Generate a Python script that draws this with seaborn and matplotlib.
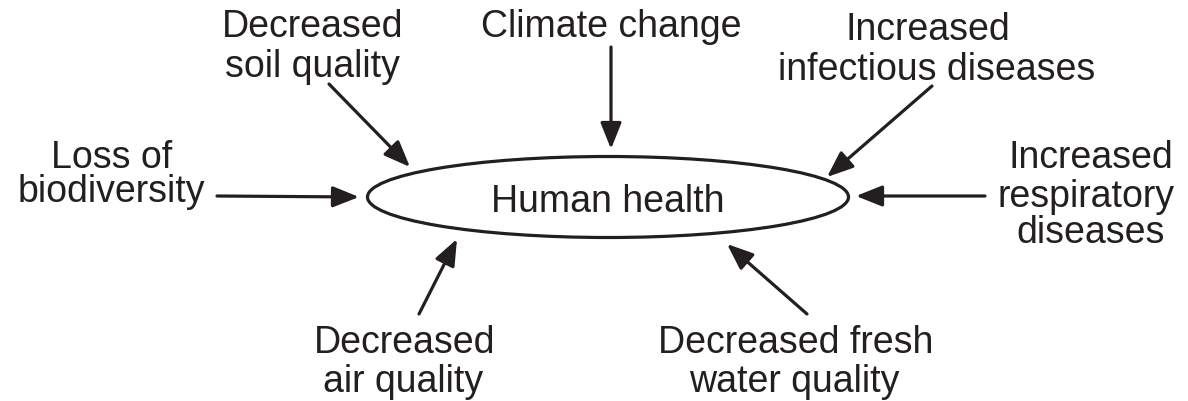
import matplotlib
matplotlib.use("Agg")
import matplotlib.pyplot as plt
from matplotlib.patches import Ellipse
import seaborn as sns

sns.set_theme(style="white")
plt.rcParams["font.family"] = ["Liberation Sans", "DejaVu Sans"]

INK = "#231f20"

# Diagram content
center_label = "Human health"
factor_lines = [
    "Decreased", "soil quality",
    "Climate change",
    "Increased", "infectious diseases",
    "Loss of", "biodiversity",
    "Increased", "respiratory", "diseases",
    "Decreased", "air quality",
    "Decreased fresh", "water quality",
]
# line anchors (pixel coords: x centre, baseline y)
line_x = [313, 312, 611, 928, 937, 112, 111, 1091, 1086, 1091, 405, 403, 796, 794]
line_y = [37, 77, 37, 40, 80, 168, 202, 168, 207, 243, 353, 392, 353, 392]

# arrows: start -> tip
arrow_x0 = [611, 329, 932, 217, 985, 419, 807]
arrow_y0 = [48, 85, 87, 197, 197, 315, 315]
arrow_x1 = [611, 410, 827, 359, 856, 457, 727]
arrow_y1 = [150, 168, 178, 198, 197, 240, 245]

W, H = 1188, 402
fig = plt.figure(figsize=(W / 100, H / 100), dpi=100)
ax = fig.add_axes([0, 0, 1, 1])
ax.set_xlim(0, W)
ax.set_ylim(H, 0)
ax.axis("off")

ax.add_patch(Ellipse((608, 198), 481, 81, fill=False, lw=2.3, ec=INK))
ax.text(608, 212, center_label, ha="center", va="baseline", fontsize=27, color=INK)

for t, x, y in zip(factor_lines, line_x, line_y):
    ax.text(x, y, t, ha="center", va="baseline", fontsize=27, color=INK)

for x0, y0, x1, y1 in zip(arrow_x0, arrow_y0, arrow_x1, arrow_y1):
    ax.annotate("", xy=(x1, y1), xytext=(x0, y0),
                arrowprops=dict(arrowstyle="-|>,head_length=0.8,head_width=0.32",
                                lw=2.3, color=INK, mutation_scale=20,
                                shrinkA=0, shrinkB=0))

fig.savefig("out.png", dpi=100, facecolor="white")
